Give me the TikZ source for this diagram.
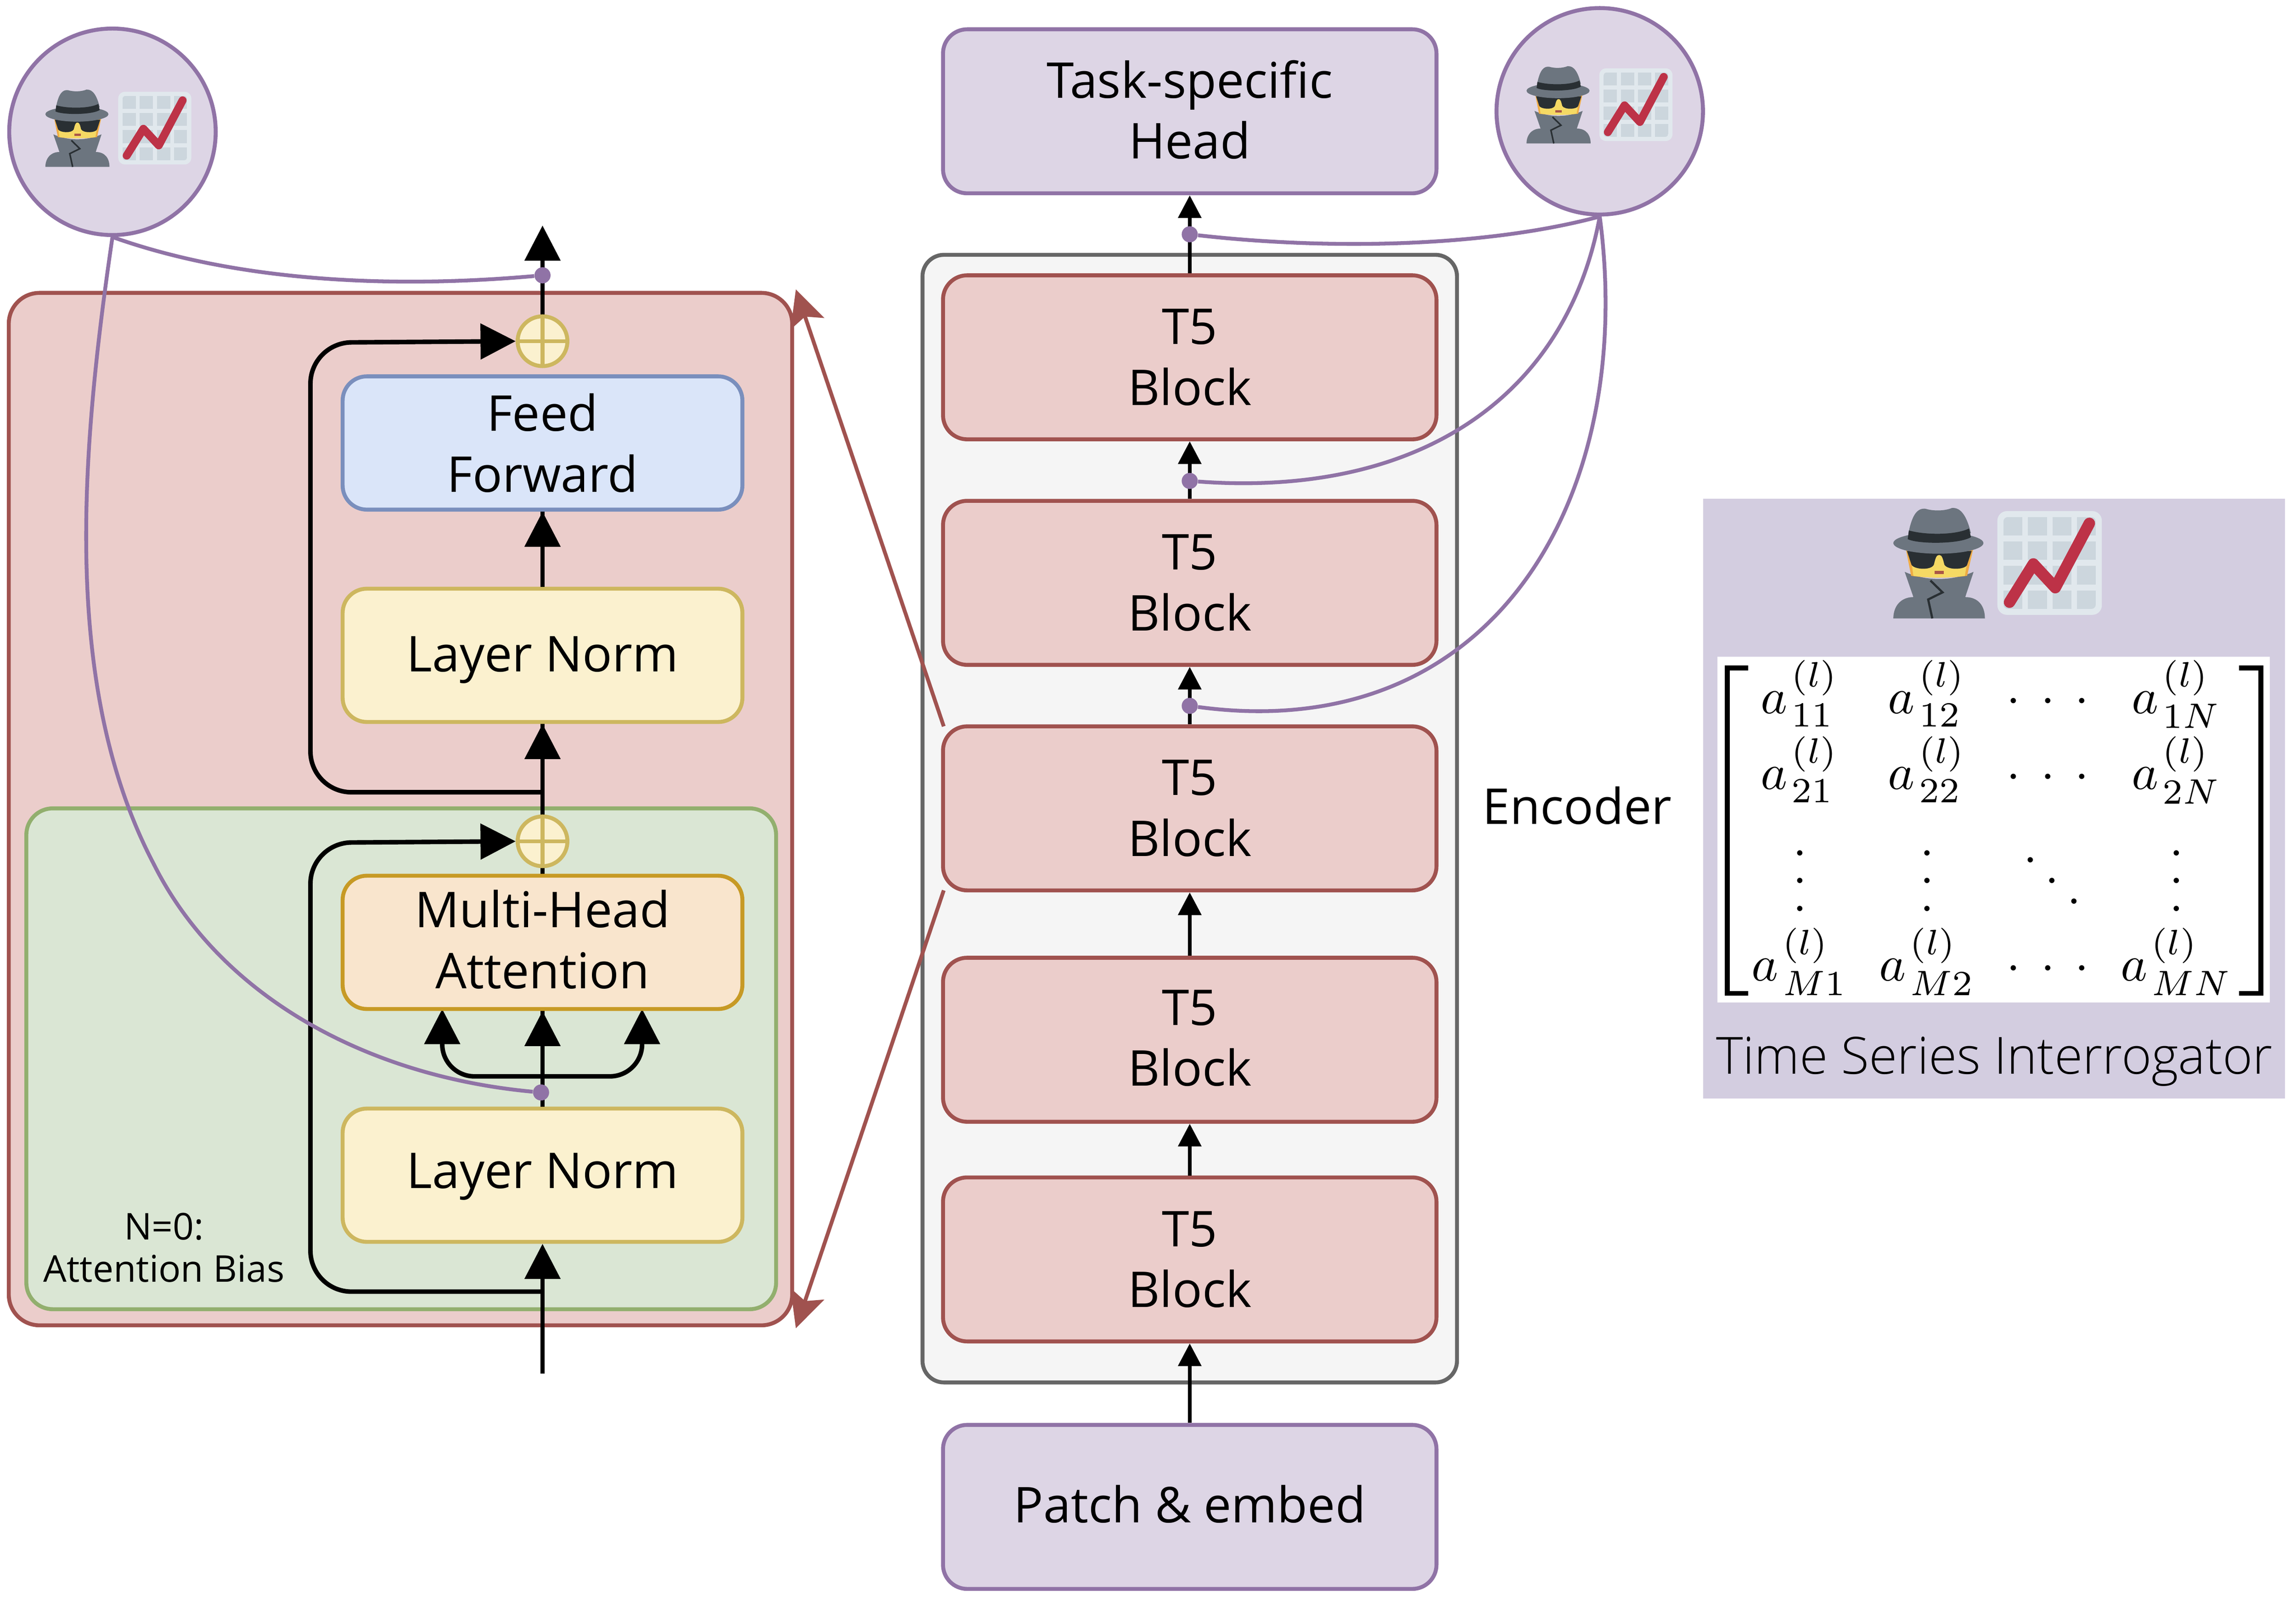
\documentclass[tikz,border=0pt]{standalone}
\usepackage{amsmath}
\usepackage{fontspec}
\setmainfont{Open Sans}
\newfontfamily\lightfont{Open Sans Light}
\usetikzlibrary{arrows.meta}
\definecolor{redfill}{HTML}{EBCDCB}
\definecolor{reddraw}{HTML}{A0524F}
\definecolor{greenfill}{HTML}{DAE6D4}
\definecolor{greendraw}{HTML}{92AF6E}
\definecolor{bluefill}{HTML}{DAE5F9}
\definecolor{bluedraw}{HTML}{7A8FBD}
\definecolor{yellowfill}{HTML}{FBF1CF}
\definecolor{yellowdraw}{HTML}{CDB75F}
\definecolor{orangefill}{HTML}{F9E5CD}
\definecolor{orangedraw}{HTML}{C79A25}
\definecolor{purplefill}{HTML}{DDD5E5}
\definecolor{purpledraw}{HTML}{9073A6}
\definecolor{panelfill}{HTML}{D3CDE0}
\definecolor{spygrey}{HTML}{6C757F}
\definecolor{spydark}{HTML}{292F33}
\definecolor{spyskin}{HTML}{F5D964}
\definecolor{spyside}{HTML}{EFAB44}
\definecolor{chartback}{HTML}{E1E8ED}
\definecolor{chartcell}{HTML}{CCD6DD}
\definecolor{chartred}{HTML}{BD3247}
\tikzset{
 block/.style={draw,rounded corners=16.5pt,line width=2.7pt,minimum width=273pt,minimum height=#1,align=center,font=\fontsize{33.7}{41.5}\selectfont},
 block/.default=91pt,
 t5block/.style={block=112pt,minimum width=337pt,fill=redfill,draw=reddraw},
 purpleblock/.style={block=112pt,minimum width=337pt,fill=purplefill,draw=purpledraw},
 addnode/.style={circle,draw=yellowdraw,fill=yellowfill,line width=2.7pt,minimum size=34pt,inner sep=0pt,path picture={
   \draw[yellowdraw,line width=2.7pt] (path picture bounding box.north)--(path picture bounding box.south);
   \draw[yellowdraw,line width=2.7pt] (path picture bounding box.west)--(path picture bounding box.east);}},
 snoopnode/.style={circle,draw=purpledraw,fill=purplefill,line width=2.7pt,minimum size=141pt,inner sep=0pt},
 tapdot/.style={circle,fill=purpledraw,inner sep=0pt,minimum size=11pt},
 tap/.style={purpledraw,line width=2.6pt},
 bigarrow/.style={line width=3.1pt,-{Triangle[length=24pt,width=24pt]}},
 smallarrow/.style={line width=2.75pt,-{Triangle[length=15.5pt,width=15.5pt]}},
 redarrow/.style={reddraw,line width=2.6pt,-{Stealth[length=24.6pt,width=24pt,inset=5pt]}},
}
% spy and chart, in pixels of a larger drawing
\newcommand{\snoop}[2]{%
 \begin{scope}[shift={#1},xscale=.2584*#2,yscale=.2693*#2,shift={(-505,-35)}]
  \fill[spygrey] (535,198) .. controls (590,222) and (660,222) .. (717,198) -- (695,262) .. controls (730,262) and (747,285) .. (747,316) -- (505,316) .. controls (505,285) and (525,262) .. (558,262) -- cycle;
  \draw[spydark,line width=#2*1.5pt] (603,220) -- (635,250) -- (597,268) -- (608,316);
  \fill[spyside] (538,140) -- (716,140) -- (700,208) .. controls (660,214) and (590,214) .. (552,208) -- cycle;
  \fill[spyskin] (548,140) -- (706,140) -- (694,208) .. controls (650,214) and (600,214) .. (558,208) -- cycle;
  \fill[spydark] (541,145) -- (712,145) -- (700,180) .. controls (696,192) and (650,195) .. (640,180) .. controls (636,165) and (634,155) .. (626,155) .. controls (618,155) and (616,165) .. (612,180) .. controls (604,195) and (560,192) .. (553,180) -- cycle;
  \fill[reddraw!90!orange] (614,195) rectangle (638,204);
  \fill[spygrey] (624,125) ellipse [x radius=119,y radius=27];
  \fill[spygrey] (545,100) .. controls (555,50) and (570,36) .. (590,38) .. controls (610,44) and (640,44) .. (660,36) .. controls (685,34) and (700,60) .. (710,100) -- cycle;
  \fill[spydark] (546,93) .. controls (590,105) and (670,105) .. (705,88) -- (710,110) .. controls (680,128) and (570,128) .. (543,115) -- cycle;
  \fill[chartback,rounded corners=#2*6.5pt] (780,44) rectangle (1056,307);
  \begin{scope}
   \clip[rounded corners=#2*3pt] (796,59) rectangle (1040,292);
   \foreach \cx in {796,861,926,990}
    \foreach \cy in {59,121,183,245}
     \fill[chartcell] (\cx,\cy) rectangle ++(50,47);
  \end{scope}
  \draw[chartred,line width=#2*7.8pt,line cap=round,line join=round] (812,275) -- (875,178) -- (933,238) -- (1023,75);
 \end{scope}}
% text moved up or down in its box
\newcommand{\nudge}[2]{\raisebox{#1}[\height][\depth]{#2}}
% matrix entry and its wider dots
\newcommand{\entry}[1]{a\mkern1.5mu{}_{#1}^{(l)}}
\newcommand{\widecdots}{\mathinner{\cdotp\mkern4.2mu\cdotp\mkern4.2mu\cdotp}}
\newcommand{\tallvdots}{\vcenter{\baselineskip5.5pt \lineskiplimit0pt \hbox{$.$}\hbox{$.$}\hbox{$.$}}}
\newcommand{\tallddots}{\hbox to 12pt{\hss\hskip1.7pt\raise6.1pt\hbox{$.$}\hskip1.54pt\raise2pt\hbox{$.$}\hskip1.54pt\raise-2.1pt\hbox{$.$}\hss}}
\begin{document}
\begin{tikzpicture}[x=1pt,y=-1pt,>=Stealth]
 \useasboundingbox (0,0) rectangle (1568,1092.4);
 % left: inside of a block
 \node[draw=reddraw,fill=redfill,line width=2.7pt,rounded corners=21pt,minimum width=535pt,minimum height=705pt] (zoombox) at (273.5,552.5) {};
 \node[draw=greendraw,fill=greenfill,line width=2.7pt,rounded corners=18pt,minimum width=512pt,minimum height=342pt] (biasbox) at (274,723) {};
 \node[font=\fontsize{25.2}{29}\selectfont,align=center] (biaslabel) at (112,852) {N=0:\\Attention Bias};
 \coordinate (infeed) at (370.5,938);
 \coordinate (outfeed) at (370.5,154);
 \coordinate (skiplow) at (370.5,882);
 \coordinate (skiptop) at (370.5,541);
 \coordinate (fork) at (370.5,735);
 \coordinate (attleft) at (302,689);
 \coordinate (attright) at (438.5,689);
 \coordinate (addtopc) at (370.5,233);
 \coordinate (addlowc) at (370.5,574.5);
 \draw[line width=3.1pt] (370.5,757) -- (370.5,689);
 \draw[line width=3.1pt] (370.5,598) -- (addlowc);
 \draw[line width=3.1pt] (addlowc) -- (370.5,493);
 \draw[line width=3.1pt] (370.5,402) -- (370.5,348);
 \draw[bigarrow] (addtopc) -- (outfeed);
 \node[addnode] (addtop) at (addtopc) {};
 \node[addnode] (addlow) at (addlowc) {};
 \draw[bigarrow,rounded corners=28pt] (skiplow) -- (212,882) -- (212,575.5) -- (addlow.west);
 \draw[bigarrow,rounded corners=28pt] (skiptop) -- (212,541) -- (212,234) -- (addtop.west);
 \draw[bigarrow,rounded corners=22pt] (fork) -- (302,735) -- (attleft);
 \draw[bigarrow,rounded corners=22pt] (fork) -- (438.5,735) -- (attright);
 \node[block,fill=bluefill,draw=bluedraw] (ff) at (370.5,302.5) {Feed\\Forward};
 \node[block,fill=yellowfill,draw=yellowdraw] (normtop) at (370.5,447.5) {\nudge{-3pt}{Layer Norm}};
 \node[block,fill=orangefill,draw=orangedraw] (mha) at (370.5,643.5) {\nudge{2pt}{Multi-Head}\\\nudge{2pt}{Attention}};
 \node[block,fill=yellowfill,draw=yellowdraw] (normlow) at (370.5,802.5) {\nudge{-1pt}{Layer Norm}};
 \draw[bigarrow] (infeed) -- (normlow);
 \draw[bigarrow] (normlow) -- (mha);
 \draw[bigarrow] (normtop) -- (ff);
 \draw[bigarrow] (addlow) -- (normtop);
 \node[tapdot] (dotlow) at (369.5,746) {};
 \node[tapdot] (dotout) at (370.5,188) {};
 % middle column
 \node[draw=black!60,fill=black!4,line width=2.7pt,rounded corners=14.7pt,minimum width=365pt,minimum height=770pt] (encoder) at (812.5,559) {};
 \node[t5block] (blockone) at (812.5,860) {T5\\Block};
 \node[t5block] (blocktwo) at (812.5,710) {\nudge{1pt}{T5}\\\nudge{1pt}{Block}};
 \node[t5block] (blockthree) at (812.5,552) {T5\\Block};
 \node[t5block] (blockfour) at (812.5,398) {T5\\Block};
 \node[t5block] (blockfive) at (812.5,244) {T5\\Block};
 \node[purpleblock] (head) at (812.5,76) {\nudge{1pt}{Task-specific}\\\nudge{1pt}{Head}};
 \node[purpleblock] (patch) at (812.5,1029) {\nudge{2pt}{Patch \& embed}};
 \node[font=\fontsize{33.7}{41.5}\selectfont] (enclabel) at (1077,550) {Encoder};
 \draw[smallarrow] (patch) -- (blockone);
 \draw[smallarrow] (blockone) -- (blocktwo);
 \draw[smallarrow] (blocktwo) -- (blockthree);
 \draw[smallarrow] (blockthree) -- (blockfour);
 \draw[smallarrow] (blockfour) -- (blockfive);
 \draw[smallarrow] (blockfive) -- (head);
 \node[tapdot] (dotfour) at (812.5,482) {};
 \node[tapdot] (dotfive) at (812.5,328.4) {};
 \node[tapdot] (dothead) at (812.5,160) {};
 \coordinate (zoomne) at (543.5,197.6);
 \coordinate (zoomse) at (543.5,907);
 \draw[redarrow] (644.5,496) -- (zoomne);
 \draw[redarrow] (644.5,608) -- (zoomse);
 % interrogators
 \node[snoopnode] (snoopleft) at (76.8,90) {};
 \node[snoopnode] (snoopright) at (1092.5,76) {};
 \snoop{(31,61)}{.7}
 \snoop{(1042.5,45)}{.7}
 \draw[tap] (snoopleft.south) .. controls (170,195) and (280,196) .. (dotout);
 \draw[tap] (snoopleft.south) .. controls (55,310) and (42,470) .. (105,590) .. controls (150,680) and (250,735) .. (dotlow);
 \draw[tap] (snoopright.south) .. controls (1010,170) and (900,170) .. (dothead);
 \draw[tap] (snoopright.south) .. controls (1070,270) and (970,340) .. (dotfive);
 \draw[tap] (snoopright.south) .. controls (1118,340) and (1020,510) .. (dotfour);
 % legend
 \node[fill=panelfill,minimum width=397.4pt,minimum height=409.7pt] (panel) at (1361.8,545.3) {};
 \snoop{(1293,346.6)}{1}
 \node[fill=white,minimum width=377.3pt,minimum height=236.4pt,inner sep=0pt] (matbox) at (1361.5,566.5) {};
 \node[inner sep=0pt] (matrix) at (1360.4,566.5) {\setlength{\arraycolsep}{3.12pt}\scalebox{3.45}{$\begin{matrix}
   \entry{11} & \entry{12} & \widecdots & \entry{1N}\\[1pt]
   \entry{21} & \entry{22} & \widecdots & \entry{2N}\\[8.5pt]
   \tallvdots & \tallvdots & \tallddots & \tallvdots\\[3.2pt]
   \entry{M1} & \entry{M2} & \widecdots & \entry{MN}
  \end{matrix}$}};
 \draw[line width=3.4pt] (1194,456.2) -| (1179.7,678.3) -- (1194,678.3);
 \draw[line width=3.4pt] (1529,456.2) -| (1543.9,678.3) -- (1529,678.3);
 \node[font=\lightfont\fontsize{35}{41.5}\selectfont] (panellabel) at (1362,725) {Time Series Interrogator};
\end{tikzpicture}
\end{document}
